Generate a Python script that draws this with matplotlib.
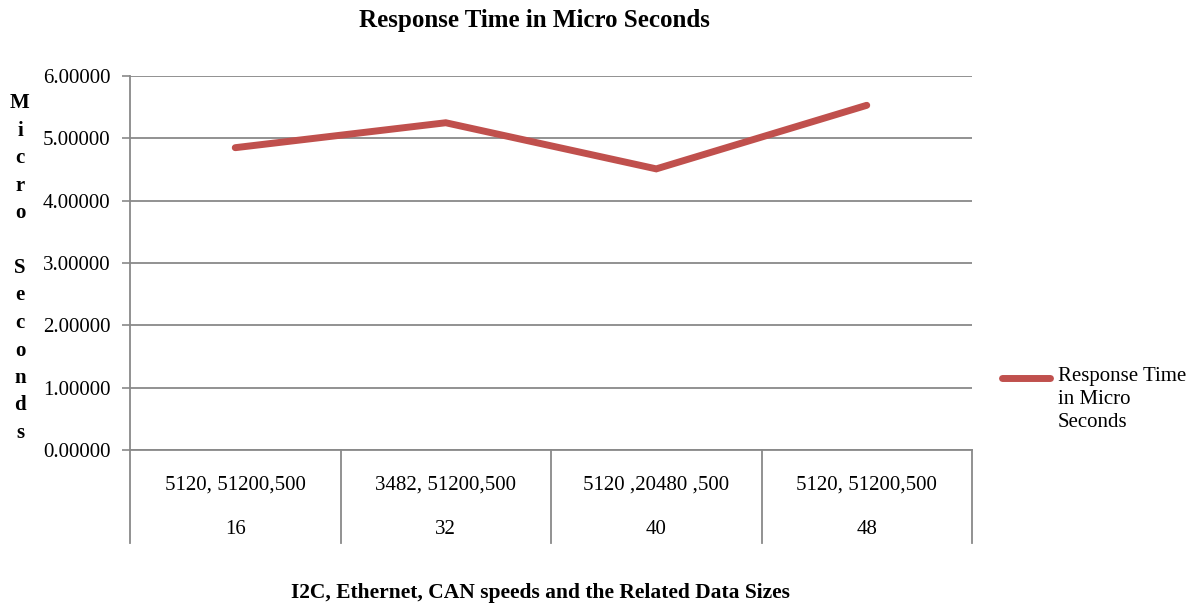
import matplotlib
matplotlib.use("Agg")
import matplotlib.pyplot as plt
import matplotlib.transforms as mtransforms
from matplotlib.lines import Line2D

# Data
speed_labels = ["5120, 51200,500", "3482, 51200,500", "5120 ,20480 ,500", "5120, 51200,500"]
data_sizes = ["16", "32", "40", "48"]
response_us = [4.85, 5.25, 4.51, 5.53]
series_name = "Response Time in Micro Seconds"
y_ticks = [0, 1, 2, 3, 4, 5, 6]

plt.rcParams["font.family"] = ["Liberation Serif", "DejaVu Serif"]

W, H = 1202, 605
fig = plt.figure(figsize=(W / 100, H / 100), dpi=100)
ax = fig.add_axes([130 / W, 1 - 450 / H, (972 - 130) / W, (450 - 76) / H])

line_color = "#C0504D"
grid_color = "#898989"

x = list(range(len(response_us)))
ax.plot(x, response_us, color=line_color, linewidth=5, solid_capstyle="round",
        solid_joinstyle="miter", zorder=3)

ax.set_xlim(-0.5, len(x) - 0.5)
ax.set_ylim(0, 6)
ax.set_yticks(y_ticks)
ax.set_yticklabels([f"{v:.5f}" for v in y_ticks], fontsize=15)
ax.yaxis.grid(True, color=grid_color, linewidth=1.3)
ax.set_axisbelow(True)
ax.tick_params(axis="y", length=6, width=1.2, color=grid_color, pad=8)
ax.set_xticks([])

for side in ["top", "right"]:
    ax.spines[side].set_visible(False)
ax.spines["left"].set_color(grid_color)
ax.spines["left"].set_linewidth(1.3)
ax.spines["bottom"].set_color(grid_color)
ax.spines["bottom"].set_linewidth(1.3)

# Two-level category axis: separators and labels below the plot
blend = mtransforms.blended_transform_factory(ax.transData, ax.transAxes)
sep_bottom = -(543 - 450) / (450 - 76)
for b in [i - 0.5 for i in range(len(x) + 1)]:
    ax.add_line(Line2D([b, b], [0, sep_bottom], transform=blend, color=grid_color,
                       linewidth=1.3, clip_on=False))
row1 = -(485 - 450) / (450 - 76)
row2 = -(530 - 450) / (450 - 76)
for i, (s, d) in enumerate(zip(speed_labels, data_sizes)):
    ax.text(i, row1, s, transform=blend, ha="center", va="center", fontsize=15)
    ax.text(i, row2, d, transform=blend, ha="center", va="center", fontsize=15)

# Title and axis titles
fig.text(534 / W, 1 - 20 / H, series_name, ha="center", va="center",
         fontsize=18, fontweight="bold")
fig.text(540 / W, 1 - 593 / H, "I2C, Ethernet, CAN speeds and the Related Data Sizes",
         ha="center", va="center", fontsize=15.5, fontweight="bold")

ylabel = "Micro Seconds"
y0, step = 103, 27.5
for k, ch in enumerate(ylabel):
    if ch != " ":
        fig.text(20 / W, 1 - (y0 + k * step) / H, ch, ha="center", va="center",
                 fontsize=15, fontweight="bold")

# Legend
fig.add_artist(Line2D([1002 / W, 1050 / W], [1 - 378 / H, 1 - 378 / H],
                      color=line_color, linewidth=5, solid_capstyle="round"))
fig.text(1058 / W, 1 - 367 / H, "Response Time\nin Micro\nSeconds", ha="left", va="top",
         fontsize=15, linespacing=1.3)

fig.savefig("out.png", dpi=100)
